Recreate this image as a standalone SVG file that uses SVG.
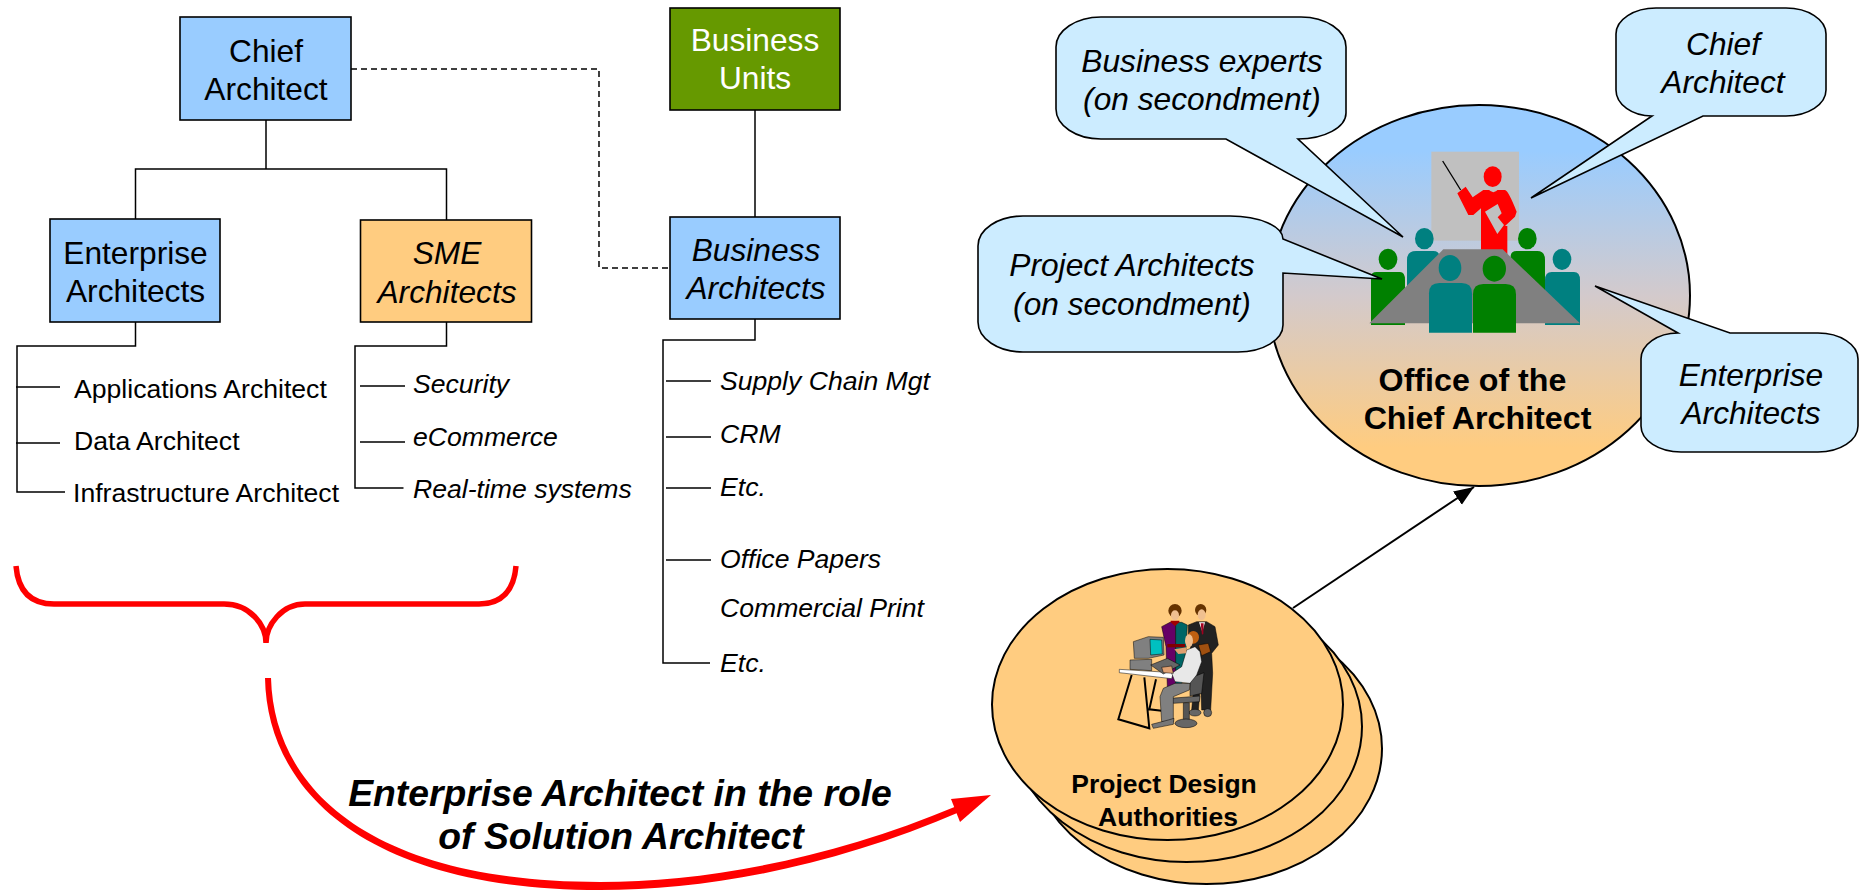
<svg xmlns="http://www.w3.org/2000/svg" width="1865" height="890" viewBox="0 0 1865 890">
<style>
text{font-family:"Liberation Sans",Arial,Helvetica,sans-serif;fill:#000}
.m{text-anchor:middle}
.b{font-size:31.7px}
.s{font-size:26.6px}
.i{font-style:italic}
.w{font-weight:bold}
.box{stroke:#000;stroke-width:1.6}
.blue{fill:#99CCFF}
.orange{fill:#FFCC80}
.call{fill:#CCECFF;stroke:#000;stroke-width:1.6}
.ell{fill:#FFCC80;stroke:#000;stroke-width:2}
.ln{fill:none;stroke:#000;stroke-width:1.5}
.teal{fill:#008080}
.green{fill:#008000}
.k{stroke:#000;stroke-width:1.5}
</style>
<defs>
<linearGradient id="g" x1="0" y1="0" x2="0" y2="1"><stop offset=".12" stop-color="#99CCFF"/><stop offset=".5" stop-color="#D3CACC"/><stop offset=".9" stop-color="#FFCC80"/></linearGradient>
<marker id="ah" markerUnits="userSpaceOnUse" markerWidth="22" markerHeight="18" refX="20" refY="8" orient="auto"><path d="M0,0L20,8L0,16Z" fill="#000"/></marker>
</defs>
<g id="connectors">
<path class="ln" d="M266,120V169M135.500,219V169H446.500V220"/>
<path class="ln" d="M351,69H599V268H670" stroke-dasharray="6 4"/>
<path class="ln" d="M755,110V217"/>
<path class="ln" d="M135.500,322V346H17V492H65M16,387H60M16,443H60"/>
<path class="ln" d="M446.500,322V346H355V488H403.500M360,386H405M360,442H405"/>
<path class="ln" d="M755,319V340H663V663H710M666,381H711M666,437H711M666,488H711M666,560H711"/>
<path d="M16,566C18,590 30,604 54,604H224C250,604 266,625 266,643C266,625 282,604 305,604H479C502,604 514,590 516,566" fill="none" stroke="#F00" stroke-width="5.500"/>
<path d="M265,678C267,792 368,890 600,890C705,890 830,868 962,811L957,806C828,860 703,882 600,882C372,882 274,790 271,678Z" fill="#F00"/>
<path d="M991,795L951,799L960,822Z" fill="#F00"/>
<path class="ln" style="stroke-width:2" d="M1293,608L1474,487" marker-end="url(#ah)"/>
</g>
<g id="chief-architect"><rect class="box blue" x="180" y="17" width="171" height="103"/><text class="b m" x="266" y="62">Chief</text><text class="b m" x="266" y="100">Architect</text></g>
<g id="business-units"><rect class="box" fill="#669900" x="670" y="8" width="170" height="102"/><text class="b m" style="fill:#fff" x="755" y="51">Business</text><text class="b m" style="fill:#fff" x="755" y="89">Units</text></g>
<g id="enterprise-architects"><rect class="box blue" x="50" y="219" width="170" height="103"/><text class="b m" x="135.500" y="264">Enterprise</text><text class="b m" x="135.500" y="302">Architects</text></g>
<g id="sme-architects"><rect class="box orange" x="360.500" y="220" width="171" height="102"/><text class="b m i" x="447" y="264">SME</text><text class="b m i" x="447" y="303">Architects</text></g>
<g id="business-architects"><rect class="box blue" x="670" y="217" width="170" height="102"/><text class="b m i" x="756" y="261">Business</text><text class="b m i" x="756" y="299">Architects</text></g>
<g id="enterprise-list"><text class="s" x="74" y="398">Applications Architect</text><text class="s" x="74" y="450">Data Architect</text><text class="s" x="73" y="502">Infrastructure Architect</text></g>
<g id="sme-list"><text class="s i" x="413" y="393">Security</text><text class="s i" x="413" y="446">eCommerce</text><text class="s i" x="413" y="498">Real-time systems</text></g>
<g id="business-list"><text class="s i" x="720" y="390">Supply Chain Mgt</text><text class="s i" x="720" y="443">CRM</text><text class="s i" x="720" y="496">Etc.</text><text class="s i" x="720" y="568">Office Papers</text><text class="s i" x="720" y="617">Commercial Print</text><text class="s i" x="720" y="672">Etc.</text></g>
<g id="role-label"><text class="w i m" font-size="37.300" x="620" y="806">Enterprise Architect in the role</text><text class="w i m" font-size="37.300" x="621" y="849">of Solution Architect</text></g>
<g id="office">
<ellipse cx="1479" cy="295.500" rx="211" ry="190.500" fill="url(#g)" stroke="#000" stroke-width="2"/>
<text class="w m" font-size="32.200" x="1472.500" y="391">Office of the</text><text class="w m" font-size="32.200" x="1477.500" y="429">Chief Architect</text>
<g id="presenter-icon" transform="translate(1200,100) scale(.33333)">
<rect x="694" y="155" width="263" height="267" fill="#C0C0C0"/>
<path d="M728,183L782,270" stroke="#000" stroke-width="4"/>
<ellipse cx="878" cy="230" rx="27" ry="31" fill="#F00"/>
<path d="M772,280L797,260L818,292L850,270H915Q925,272 950,335L945,350L915,378H922V470H843V325L820,345H805Z" fill="#F00"/>
<path d="M855,335L893,312L905,340L893,352L912,375L892,402Z" fill="#C0C0C0"/>
<path d="M865,268Q880,285 895,268Z" fill="#C0C0C0"/>
<ellipse class="teal" cx="673" cy="416" rx="28" ry="32"/><path class="teal" d="M621,570V480Q621,453 648,453H700Q718,453 718,470V570Z"/>
<ellipse class="green" cx="982" cy="416" rx="28" ry="32"/><path class="green" d="M932,570V470Q932,453 950,453H1012Q1035,453 1035,480V570Z"/>
<ellipse class="green" cx="564" cy="478" rx="28" ry="32"/><path class="green" d="M513,675V530Q513,516 530,516H600Q615,516 615,540V675Z"/>
<ellipse class="teal" cx="1086" cy="478" rx="28" ry="32"/><path class="teal" d="M1035,675V540Q1035,516 1055,516H1122Q1140,516 1140,540V675Z"/>
<path d="M508,670L730,448H908L1140,670Z" fill="#808080"/>
<ellipse class="teal" cx="750" cy="504" rx="34" ry="39"/><path class="teal" d="M687,698V580Q687,549 718,549H785Q816,549 816,580V698Z"/>
<ellipse class="green" cx="883" cy="506" rx="35" ry="39"/><path class="green" d="M819,698V583Q819,552 850,552H917Q948,552 948,583V698Z"/>
</g>
</g>
<g id="callout-business-experts"><path class="call" d="M1101,17H1301A45,30 0 0 1 1346,47V113A48,26 0 0 1 1298,139L1403,237L1226,139H1101A45,30 0 0 1 1056,109V47A45,30 0 0 1 1101,17Z"/><text class="b m i" x="1202" y="72">Business experts</text><text class="b m i" x="1202" y="110">(on secondment)</text></g>
<g id="callout-chief"><path class="call" d="M1656,8H1786A40,26 0 0 1 1826,34V90A40,26 0 0 1 1786,116H1703L1531,198L1652,116A36,26 0 0 1 1616,90V34A40,26 0 0 1 1656,8Z"/><text class="b m i" x="1723" y="55">Chief</text><text class="b m i" x="1723" y="93">Architect</text></g>
<g id="callout-project"><path class="call" d="M1023,216H1230A53,23 0 0 1 1283,239L1382,279L1283,273V325A45,27 0 0 1 1238,352H1023A45,30 0 0 1 978,322V246A45,30 0 0 1 1023,216Z"/><text class="b m i" x="1132" y="276">Project Architects</text><text class="b m i" x="1132" y="315">(on secondment)</text></g>
<g id="callout-enterprise"><path class="call" d="M1730,333H1818A40,26 0 0 1 1858,359V426A40,26 0 0 1 1818,452H1681A40,26 0 0 1 1641,426V359A37,26 0 0 1 1678,333L1595,286Z"/><text class="b m i" x="1751" y="386">Enterprise</text><text class="b m i" x="1751" y="424">Architects</text></g>
<g id="project-design-authorities">
<ellipse class="ell" cx="1206.500" cy="748.500" rx="175.500" ry="135.500"/>
<ellipse class="ell" cx="1186.500" cy="726.500" rx="175.500" ry="135.500"/>
<ellipse class="ell" cx="1167.500" cy="704.500" rx="175.500" ry="135.500"/>
<text class="w m" font-size="26.500" x="1164" y="793">Project Design</text><text class="w m" font-size="26.500" x="1168" y="826">Authorities</text>
<g id="workers-icon" transform="translate(1080,590) scale(.33333)">
<path d="M245,110L270,97H287V290H262L258,170Z" fill="#660066" class="k"/>
<path d="M287,97H305L322,105L318,180L305,285H287Z" fill="#006666" class="k"/>
<path d="M262,162H315V172H262Z" fill="#800000"/>
<path d="M272,97L285,108L298,97V92H272Z" fill="#A00000"/>
<ellipse cx="285" cy="62" rx="20" ry="20" fill="#663300"/><ellipse cx="285" cy="76" rx="12" ry="15" fill="#F0C090"/>
<path d="M325,105L350,95H380L405,110L415,165L395,190L398,250L392,360H365L362,280L355,360H335L345,250L325,135Z" fill="#222" class="k"/>
<path d="M357,97L375,97L367,125Z" fill="#fff"/><path d="M362,100L371,100L370,130L366,135Z" fill="#A00020"/>
<ellipse cx="345" cy="368" rx="18" ry="10" fill="#666" class="k"/><ellipse cx="383" cy="368" rx="12" ry="12" fill="#666" class="k"/>
<ellipse cx="362" cy="60" rx="17" ry="18" fill="#663300"/><ellipse cx="365" cy="74" rx="12" ry="16" fill="#F0C090"/>
<path d="M355,165L385,160L392,185L365,197Z" fill="#A05010" class="k"/>
<path d="M160,155L205,140L250,142L252,195L205,205L163,205Z" fill="#808080" class="k"/>
<path d="M210,148L245,150L247,192L212,195Z" fill="#00C0C0" class="k"/>
<path d="M150,210L215,208V242L150,238Z" fill="#808080" class="k"/>
<path d="M155,255L115,388L208,415L193,262M228,268L208,358L245,362" fill="none" stroke="#000" stroke-width="6"/>
<path d="M118,238L280,248L275,266L118,248Z" fill="#fff" class="k"/>
<path d="M212,225L262,205L300,225L250,252Z" fill="#666" class="k"/>
<path d="M330,265L372,248L365,310L330,318Z" fill="#555" class="k"/>
<path d="M310,338H328V390H310Z" fill="#555" class="k"/>
<ellipse cx="318" cy="400" rx="33" ry="13" fill="#666" class="k"/>
<path d="M272,325L360,318L358,335L280,340Z" fill="#666" class="k"/>
<path d="M330,280L328,300L280,320L280,395L245,395L240,320L250,295L285,280Z" fill="#808080" class="k"/>
<path d="M215,403L265,390L282,385L280,403L220,415Z" fill="#777" class="k"/>
<path d="M320,180L345,170L360,185L365,215L350,255L330,280L285,275L275,250L305,230Z" fill="#E8E8E8" class="k"/>
<path d="M245,232L275,228L280,250L250,248Z" fill="#E0A070" class="k"/>
<path d="M283,178L320,172L318,190L295,192Z" fill="#E0A070"/>
<ellipse cx="340" cy="142" rx="17" ry="19" fill="#C06010"/><ellipse cx="327" cy="152" rx="12" ry="19" fill="#F0C090"/>
</g>
</g>
</svg>
